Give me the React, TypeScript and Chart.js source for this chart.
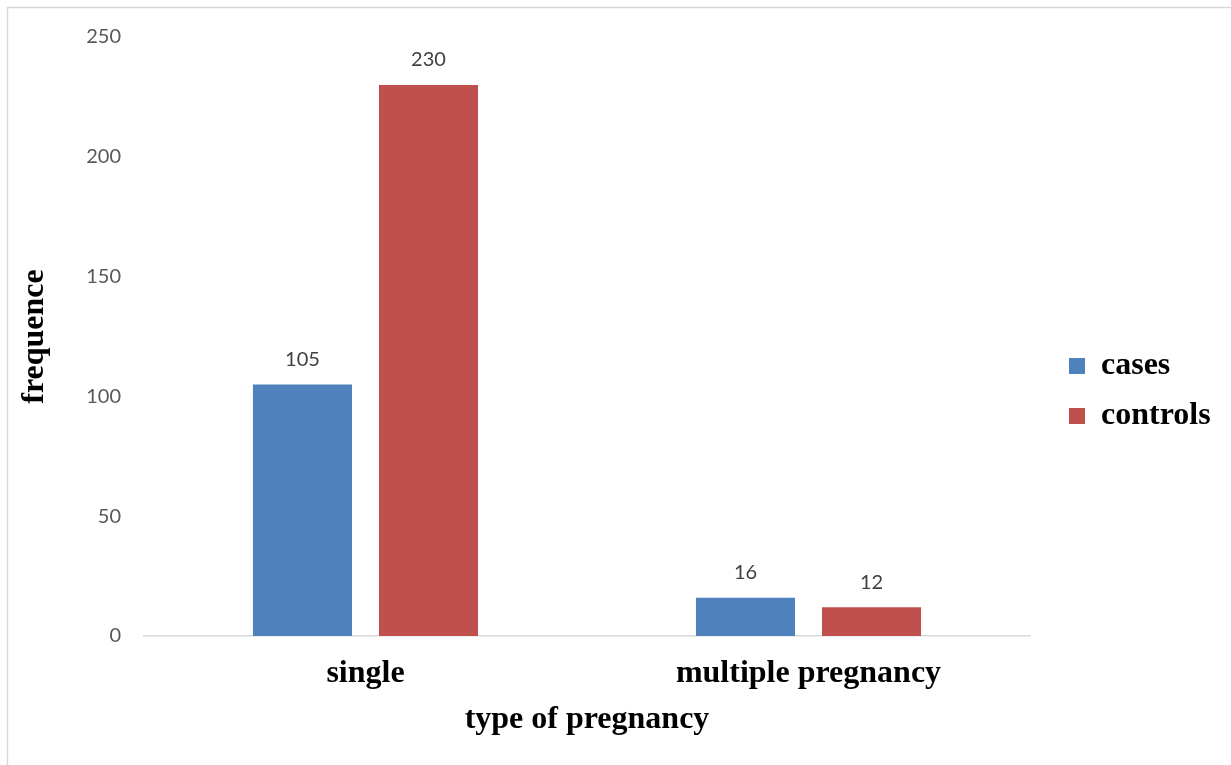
import React, { useEffect, useRef } from "react";
import { Chart, registerables } from "chart.js";

Chart.register(...registerables);

const categories = ["single", "multiple pregnancy"];
const casesValues = [105, 16];
const controlsValues = [230, 12];
const seriesNames = ["cases", "controls"];
const yTicks = [0, 50, 100, 150, 200, 250];

const serif = "'Liberation Serif', 'Times New Roman', serif";
const sans = "Lato, 'Open Sans', sans-serif";

const framePlugin = {
  id: "frame",
  beforeDraw(chart: any) {
    const { ctx, width, height } = chart;
    ctx.save();
    ctx.strokeStyle = "#d9d9d9";
    ctx.lineWidth = 1.5;
    ctx.beginPath();
    ctx.moveTo(7.5, height);
    ctx.lineTo(7.5, 7.5);
    ctx.lineTo(width, 7.5);
    ctx.stroke();
    ctx.restore();
  },
};

const valueLabelPlugin = {
  id: "valueLabels",
  afterDatasetsDraw(chart: any) {
    const { ctx } = chart;
    ctx.save();
    ctx.font = `20px ${sans}`;
    ctx.fillStyle = "#404040";
    ctx.textAlign = "center";
    ctx.textBaseline = "middle";
    chart.data.datasets.forEach((ds: any, i: number) => {
      const meta = chart.getDatasetMeta(i);
      meta.data.forEach((bar: any, j: number) => {
        ctx.fillText(String(ds.data[j]), bar.x, bar.y - 25);
      });
    });
    ctx.restore();
  },
};

const legendLayoutPlugin = {
  id: "legendLayout",
  beforeLayout(chart: any) {
    const lg = chart.legend;
    if (!lg || lg._patched) return;
    const orig = lg.fit;
    lg.fit = function () {
      orig.call(this);
      this.width = 201;
    };
    lg._patched = true;
  },
  afterLayout(chart: any) {
    const lg = chart.legend;
    if (!lg) return;
    lg.left += 21;
    lg.right += 21;
  },
};

export default function App() {
  const ref = useRef<HTMLCanvasElement | null>(null);

  useEffect(() => {
    if (!ref.current) return;
    const chart = new Chart(ref.current, {
      type: "bar",
      data: {
        labels: categories,
        datasets: [
          {
            label: seriesNames[0],
            data: casesValues,
            backgroundColor: "#4F81BD",
            categoryPercentage: 0.569,
            barPercentage: 0.786,
          },
          {
            label: seriesNames[1],
            data: controlsValues,
            backgroundColor: "#C0504D",
            categoryPercentage: 0.569,
            barPercentage: 0.786,
          },
        ],
      },
      options: {
        responsive: false,
        animation: false,
        layout: { padding: { top: 37, left: 0, right: 0, bottom: 20 } },
        plugins: {
          tooltip: { enabled: false },
          legend: {
            position: "right",
            labels: {
              font: { family: serif, size: 32, weight: "bold" },
              color: "#000",
              boxWidth: 16,
              boxHeight: 16,
              padding: 18,
            },
          },
        },
        scales: {
          x: {
            afterFit: (scale: any) => {
              scale.height = 109;
            },
            grid: { display: false, drawTicks: false },
            border: { display: true, color: "#d9d9d9", width: 1.5 },
            ticks: {
              font: { family: serif, size: 32, weight: "bold" },
              color: "#000",
              padding: 19,
            },
            title: {
              display: true,
              text: "type of pregnancy",
              font: { family: serif, size: 32, weight: "bold" },
              color: "#000",
              padding: { top: 4, bottom: 6 },
            },
          },
          y: {
            min: 0,
            max: 250,
            afterFit: (scale: any) => {
              scale.width = 144;
            },
            afterBuildTicks: (scale: any) => {
              scale.ticks = yTicks.map((v) => ({ value: v }));
            },
            grid: { display: false, drawTicks: false },
            border: { display: false },
            ticks: {
              font: { family: sans, size: 20 },
              color: "#595959",
              padding: 23,
            },
            title: {
              display: true,
              text: "frequence",
              font: { family: serif, size: 32, weight: "bold" },
              color: "#000",
              padding: { top: 16, bottom: 8 },
            },
          },
        },
      },
      plugins: [framePlugin, valueLabelPlugin, legendLayoutPlugin],
    });
    return () => chart.destroy();
  }, []);

  return (
    <div style={{ position: "absolute", left: 0, top: 0, width: 1231, height: 765, background: "#fff" }}>
      <canvas ref={ref} width={1231} height={765} style={{ display: "block" }} />
    </div>
  );
}
